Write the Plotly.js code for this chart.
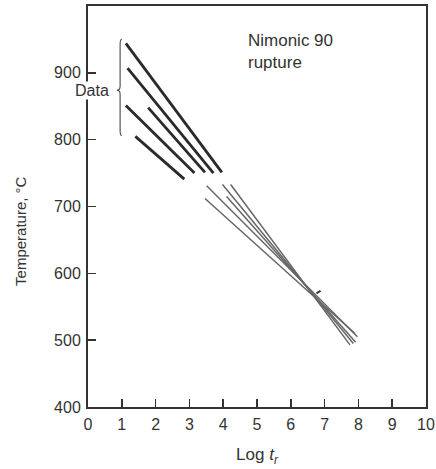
<!DOCTYPE html>
<html>
<head>
<meta charset="utf-8">
<script src="https://cdn.plot.ly/plotly-3.0.1.min.js"></script>
<style>html,body{margin:0;padding:0;background:#fff;}#chart{width:436px;height:469px;}</style>
</head>
<body>
<div id="chart"></div>
<script>
// Measured rupture data lines (log tr, temperature °C): start and end
const dataX0 = [1.12, 1.17, 1.78, 1.12, 1.40];
const dataY0 = [944, 907, 848, 851, 805];
const dataX1 = [3.96, 3.71, 3.46, 3.15, 2.85];
const dataY1 = [751, 750, 751, 750, 741];

// Extrapolated lines (same order as data lines)
const extX0 = [4.22, 3.98, 4.10, 3.51, 3.46];
const extY0 = [733, 733, 715, 731, 712];
const extX1 = [7.75, 7.85, 7.92, 7.97, 7.90];
const extY1 = [493, 495, 497, 505, 510];

// small convergence mark
const markX = [6.76, 6.88];
const markY = [570, 574];

// brace around the data lines
const braceX = 0.95, braceTipX = 0.85;
const braceTop = 950, braceBottom = 806, braceMid = 874;

const xTicks = [0,1,2,3,4,5,6,7,8,9,10];
const yTicks = [400,500,600,700,800,900];

const traces = [];
for (let i = 0; i < dataX0.length; i++) {
  traces.push({x:[dataX0[i], dataX1[i]], y:[dataY0[i], dataY1[i]], mode:'lines',
    line:{color:'#2a2a2a', width:2.8}, hoverinfo:'skip', showlegend:false});
}
for (let i = 0; i < extX0.length; i++) {
  traces.push({x:[extX0[i], extX1[i]], y:[extY0[i], extY1[i]], mode:'lines',
    line:{color:'#666', width:1.5}, hoverinfo:'skip', showlegend:false});
}
traces.push({x:markX, y:markY, mode:'lines', line:{color:'#333', width:2}, hoverinfo:'skip', showlegend:false});

const bracePath =
  `M ${braceX+0.05},${braceTop} Q ${braceX},${braceTop} ${braceX},${braceTop-8} ` +
  `L ${braceX},${braceMid+6} Q ${braceX},${braceMid} ${braceTipX},${braceMid} ` +
  `Q ${braceX},${braceMid} ${braceX},${braceMid-6} ` +
  `L ${braceX},${braceBottom+8} Q ${braceX},${braceBottom} ${braceX+0.05},${braceBottom}`;

const font = {family:'Liberation Sans, Arial, sans-serif', color:'#333'};
const f = s => Object.assign({size:s}, font);

const layout = {
  width:436, height:469,
  margin:{l:88, r:10, t:6, b:62},
  paper_bgcolor:'#fff', plot_bgcolor:'#fff',
  font:f(16),
  xaxis:{range:[0,10], tickvals:xTicks, ticktext:xTicks.map(String),
    ticks:'inside', ticklen:8, tickwidth:1.5, tickcolor:'#333',
    showline:true, linewidth:2, linecolor:'#333', mirror:true,
    showgrid:false, zeroline:false, fixedrange:true,
    tickfont:f(16), ticklabelstandoff:2,
    title:{text:'Log <i>t</i><sub><i>r</i></sub>', font:f(17), standoff:16}},
  yaxis:{range:[400,1000], tickvals:yTicks, ticktext:yTicks.map(String),
    ticks:'inside', ticklen:8, tickwidth:1.5, tickcolor:'#333',
    showline:true, linewidth:2, linecolor:'#333', mirror:true,
    showgrid:false, zeroline:false, fixedrange:true,
    tickfont:f(16), ticklabelstandoff:2},
  shapes:[{type:'path', path:bracePath, xref:'x', yref:'y',
    line:{color:'#555', width:1.2}}],
  annotations:[
    {x:-0.20, y:0.44, xref:'paper', yref:'paper', text:'Temperature, °C', textangle:-90,
      showarrow:false, font:f(15), xanchor:'center', yanchor:'middle'},
    {x:0.11, y:braceMid, xref:'x', yref:'y', text:'Data', showarrow:false,
      font:f(16), bgcolor:'#fff', borderpad:0},
    {x:4.66, y:965, xref:'x', yref:'y', xanchor:'left', yanchor:'top', align:'left',
      text:'Nimonic 90<br>rupture', showarrow:false, font:f(17)}
  ]
};

Plotly.newPlot('chart', traces, layout, {displayModeBar:false, staticPlot:true});
</script>
</body>
</html>
